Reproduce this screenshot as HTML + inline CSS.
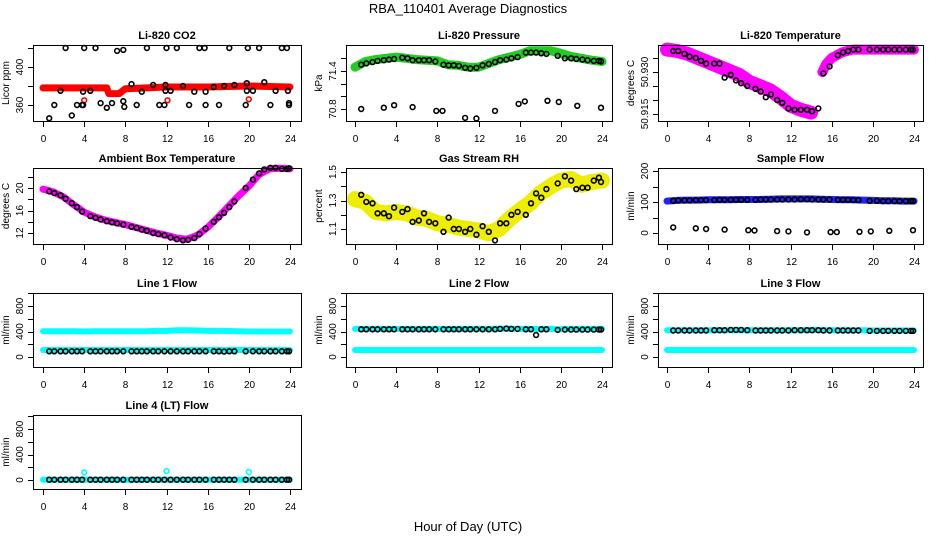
<!DOCTYPE html>
<html><head><meta charset="utf-8"><style>
body{margin:0;background:#fff}
svg text{font-family:"Liberation Sans",sans-serif;fill:#000}
</style></head><body>
<svg id="c" width="936" height="540" xmlns="http://www.w3.org/2000/svg">
<text x="468" y="13" font-size="13" text-anchor="middle">RBA_110401  Average Diagnostics</text>
<text x="468" y="531" font-size="13" text-anchor="middle">Hour of Day (UTC)</text>
</svg>
<script>
// ---- data ----
const hours = [0,1,2,3,4,5,6,7,8,9,10,11,12,13,14,15,16,17,18,19,20,21,22,23,24];
const blackTimes = [0.6,1.1,1.7,2.2,2.8,3.3,3.8,4.6,5.1,5.6,6.2,6.7,7.2,7.8,8.6,9.1,9.6,10.1,10.7,11.2,11.8,12.4,13.0,13.6,14.1,14.7,15.2,15.8,16.6,17.1,17.6,18.1,18.6,19.7,20.4,21.0,21.5,22.1,22.6,23.2,23.7,23.9];
const xTicks = [0,4,8,12,16,20,24];

const co2RedTimes = [0,6.2,6.4,7.4,8.0,12,16,20,24];
const co2RedVals = [378,378,372,372,377,379,379,380,379];
const co2BlackT = [0.6,1.1,1.7,2.2,2.8,3.3,3.8,3.9,3.9,4.0,4.6,5.1,5.6,6.2,6.7,7.2,7.8,7.8,7.9,8.6,9.1,9.6,10.1,10.7,11.3,11.8,11.9,11.9,12.0,12.4,13.0,13.6,14.2,14.7,15.2,15.7,15.8,15.8,16.6,17.1,17.6,18.1,18.6,19.7,19.8,19.8,19.9,20.4,21.0,21.5,22.1,22.6,23.2,23.7,23.8,23.9,23.9];
const co2BlackV = [346,360,375,420,349,360,360,360,374,420,375,420,362,357,362,417,364,418,358,382,360,374,420,381,360,360,381,375,420,375,420,380,360,374,420,420,360,374,379,360,380,420,381,360,383,375,420,375,420,384,360,375,420,420,375,360,362];
const co2RedOutT = [4.0,12.1,20.0];
const co2RedOutV = [365,365,366];

const presBand = [71.46,71.55,71.58,71.60,71.62,71.60,71.58,71.57,71.56,71.50,71.49,71.46,71.46,71.52,71.58,71.62,71.66,71.72,71.72,71.72,71.68,71.63,71.60,71.57,71.55];
const presBlack = [71.50,71.52,71.54,71.56,71.57,71.58,71.59,71.61,71.60,71.57,71.57,71.57,71.57,71.55,71.50,71.49,71.49,71.48,71.45,71.44,71.45,71.49,71.51,71.54,71.57,71.58,71.60,71.62,71.69,71.69,71.69,71.68,71.67,71.64,71.60,71.60,71.59,71.58,71.57,71.56,71.56,71.55];
const presOutT = [0.6,2.8,3.8,5.6,7.9,8.5,10.7,11.8,13.6,15.9,16.5,18.7,19.8,21.6,23.9];
const presOutV = [70.80,70.82,70.86,70.83,70.77,70.77,70.66,70.65,70.77,70.88,70.92,70.93,70.91,70.85,70.82];

const tempBandA = [50.938,50.9375,50.9365,50.935,50.9335,50.932,50.9305,50.929,50.9265,50.925,50.9235,50.921,50.918,50.9165,50.9155];
const tempBandBT = [15.1,15.5,16,17,18,19,20,21,22,23,24];
const tempBandB = [50.930,50.933,50.935,50.937,50.938,50.938,50.938,50.938,50.938,50.938,50.938];
const tempBlack = [50.9375,50.9375,50.9365,50.9355,50.935,50.934,50.933,50.933,50.933,50.928,50.929,50.927,50.926,50.925,50.924,50.923,50.921,50.922,50.920,50.919,50.917,50.9165,50.9165,50.9165,50.916,50.917,50.9295,50.932,50.936,50.937,50.9375,50.938,50.938,50.938,50.938,50.938,50.938,50.938,50.938,50.938,50.938,50.938];

const ambBand = [19.8,19.3,18.4,17.0,15.7,14.9,14.3,13.9,13.5,13.0,12.5,12.0,11.6,11.1,10.9,11.6,13.0,14.8,16.7,18.6,20.3,22.4,23.4,23.5,23.4];
const ambBlack = [19.4,19.1,18.7,18.1,17.3,16.6,15.8,15.0,14.7,14.4,14.1,13.9,13.7,13.5,13.1,12.9,12.6,12.4,12.0,11.8,11.6,11.2,10.9,10.7,10.8,11.1,11.8,12.8,14.0,14.8,15.6,16.6,17.6,20.0,21.5,22.6,23.3,23.6,23.6,23.4,23.4,23.5];

const rhBand = [1.31,1.29,1.22,1.21,1.22,1.21,1.18,1.17,1.14,1.13,1.11,1.10,1.09,1.07,1.10,1.17,1.23,1.28,1.35,1.40,1.44,1.45,1.41,1.43,1.44];
const rhBlack = [1.34,1.29,1.28,1.21,1.21,1.19,1.25,1.22,1.24,1.15,1.16,1.21,1.15,1.14,1.08,1.18,1.10,1.10,1.08,1.10,1.06,1.12,1.08,1.02,1.14,1.14,1.20,1.22,1.20,1.28,1.35,1.32,1.38,1.42,1.47,1.44,1.38,1.39,1.39,1.44,1.46,1.43];

const flowBand = [103,105,106,106,107,107,107,108,108,108,109,110,110,110,110,109,108,107,107,106,105,104,104,103,103];
const flowBlack = [104,105,105,105,106,106,106,106,107,107,107,107,107,107,107,108,108,108,108,108,108,108,109,109,108,108,108,108,107,107,107,106,106,104,104,103,103,103,103,103,103,103];
const flowOutT = [0.6,2.8,3.8,5.6,7.9,8.5,10.7,11.8,13.6,15.9,16.5,18.7,19.8,21.6,23.9];
const flowOutV = [18,15,13,11,9,8,6,5,2,3,3,4,5,7,9];

const line1Hi = [405,405,405,405,400,405,405,405,405,405,405,410,410,420,420,415,410,410,408,405,400,400,400,400,400];
const line1Lo = [110,110,110,110,110,110,110,110,110,110,110,110,110,110,110,110,110,110,110,110,110,110,110,110,110];
const line1Black = [90,90,90,90,90,90,90,90,90,90,90,90,90,90,90,90,90,90,90,90,90,90,90,90,90,90,90,90,90,90,85,90,90,90,90,90,90,90,90,90,90,90];
const line2Hi = [440,440,440,440,440,440,440,440,440,440,440,440,440,440,445,445,440,440,440,440,435,440,440,440,440];
const line2Lo = [110,110,110,110,110,110,110,110,110,110,110,110,110,110,110,110,110,110,110,110,110,110,110,110,110];
const line2Black = [435,435,435,435,435,435,435,435,435,435,435,435,435,435,435,435,435,435,435,435,435,435,435,435,440,445,440,440,435,435,345,435,435,425,430,430,430,430,430,430,430,430];
const line3Hi = [420,420,420,420,420,420,420,420,420,420,420,420,420,420,425,425,420,420,420,420,415,415,415,415,415];
const line3Lo = [110,110,110,110,110,110,110,110,110,110,110,110,110,110,110,110,110,110,110,110,110,110,110,110,110];
const line3Black = [415,415,415,415,415,415,415,420,420,420,425,425,425,420,415,415,415,415,415,415,415,420,420,420,420,420,415,415,415,415,415,415,415,410,410,410,410,410,410,410,410,410];
const line4Band = [5,5,5,5,5,5,5,5,5,5,5,5,5,5,5,5,5,5,5,5,5,5,5,5,5];
const line4Black = [5,5,5,5,5,5,5,5,5,5,5,5,5,5,5,5,5,5,5,5,5,5,5,5,5,5,5,5,5,5,5,5,5,5,5,5,5,5,5,5,5,5];
const line4OutT = [4.0,12.0,20.0];
const line4OutV = [120,140,125];

// ---- drawing ----
const svg = document.getElementById('c');
const NS = 'http://www.w3.org/2000/svg';
function mk(tag, attrs, parent){ const e=document.createElementNS(NS,tag); for(const k in attrs) e.setAttribute(k,attrs[k]); (parent||svg).appendChild(e); return e; }

const cols = [{l:33,r:301,x0:43,x24:290},{l:346,r:612,x0:355,x24:602},{l:658,r:923,x0:667,x24:914}];
const rows = [{t:45,b:121},{t:168,b:244},{t:293,b:367},{t:415,b:489}];

function panel(name,title,ylab,col,row,yRef1,yPix1,yRef2,yPix2,ticks,labels,dec){
  const c=cols[col], r=rows[row];
  const g=mk('g',{});
  
  
  const xs=t=>c.x0+(c.x24-c.x0)*t/24;
  const ys=v=>yPix1+(v-yRef1)*(yPix2-yPix1)/(yRef2-yRef1);
  const t=mk('text',{x:(c.l+c.r)/2,y:r.t-6,'font-size':11,'font-weight':'bold','text-anchor':'middle'},g); t.textContent=title;
  
  
  const plot=mk('g',{},g);
  
  
  const box=mk('rect',{x:c.l+0.5,y:r.t+0.5,width:c.r-c.l,height:r.b-r.t,fill:'none',stroke:'#000','stroke-width':1},g);
  
  
  const xa=mk('g',{},g);
  
  
  mk('line',{x1:xs(0),x2:xs(24),y1:r.b+0.5,y2:r.b+0.5,stroke:'#000'},xa);
  xTicks.forEach(v=>{ const x=Math.round(xs(v))+0.5;
    mk('line',{x1:x,x2:x,y1:r.b,y2:r.b+6,stroke:'#000'},xa);
    const tx=mk('text',{x:x,y:r.b+21,'font-size':10,'text-anchor':'middle'},xa); tx.textContent=v;
    
    
  });
  const ya=mk('g',{},g);
  
  
  mk('line',{x1:c.l+0.5,x2:c.l+0.5,y1:ys(ticks[0]),y2:ys(ticks[ticks.length-1]),stroke:'#000'},ya);
  ticks.forEach(v=>{ const y=Math.round(ys(v))+0.5; mk('line',{x1:c.l-5,x2:c.l,y1:y,y2:y,stroke:'#000'},ya); });
  labels.forEach(v=>{ const y=ys(v); const lx=c.l-10;
    const tx=mk('text',{x:lx,y:y,'font-size':10,'text-anchor':'middle',transform:`rotate(-90 ${lx} ${y})`},ya); tx.textContent=v.toFixed(dec);
    
    
  });
  const yl=c.l-24, ym=(r.t+r.b)/2;
  const yt=mk('text',{x:yl,y:ym,'font-size':10,'text-anchor':'middle',transform:`rotate(-90 ${yl} ${ym})`},g); yt.textContent=ylab;
  
  
  return {xs,ys,plot};
}
function band(p,T,V,color,w,nm){
  const pts=T.map((t,i)=>p.xs(t).toFixed(1)+','+p.ys(V[i]).toFixed(1)).join(' ');
  const pl=mk('polyline',{points:pts,fill:'none',stroke:color,'stroke-width':w,'stroke-linejoin':'round','stroke-linecap':'round'},p.plot);
  
  
}
function pts(p,T,V,color,nm){
  T.forEach((t,i)=>{ const ci=mk('circle',{cx:p.xs(t).toFixed(1),cy:p.ys(V[i]).toFixed(1),r:2.4,fill:'none',stroke:color,'stroke-width':1.6},p.plot);
    
    
  });
}

let p;
p=panel('co2','Li-820 CO2','Licor ppm',0,0,360,105,400,67,[360,380,400,420],[360,400],0);
band(p,co2RedTimes,co2RedVals,'#f00',7,'co2-red-band');
pts(p,co2RedOutT,co2RedOutV,'#f00','co2-red-point');
pts(p,co2BlackT,co2BlackV,'#000','co2-point');

p=panel('pressure','Li-820 Pressure','kPa',1,0,71.4,71,70.8,109,[70.8,71.0,71.2,71.4,71.6],[70.8,71.4],1);
band(p,hours,presBand,'#2c2',9,'pressure-green-band');
pts(p,blackTimes,presBlack,'#000','pressure-point');
pts(p,presOutT,presOutV,'#000','pressure-outlier');

p=panel('li820-temp','Li-820 Temperature','degrees C',2,0,50.930,72,50.915,114,[50.915,50.920,50.925,50.930,50.935],[50.915,50.930],3);
band(p,hours.slice(0,15),tempBandA,'#f0f',14,'temp-magenta-band');
band(p,tempBandBT,tempBandB,'#f0f',10,'temp-magenta-band');
pts(p,blackTimes,tempBlack,'#000','temp-point');

p=panel('ambient','Ambient Box Temperature','degrees C',0,1,12,233,20,188,[12,14,16,18,20,22],[12,16,20],0);
band(p,hours,ambBand,'#f0f',7,'ambient-magenta-band');
pts(p,blackTimes,ambBlack,'#000','ambient-point');

p=panel('rh','Gas Stream RH','percent',1,1,1.1,229,1.5,172,[1.1,1.2,1.3,1.4,1.5],[1.1,1.3,1.5],1);
band(p,hours,rhBand,'#ee0',16,'rh-yellow-band');
pts(p,blackTimes,rhBlack,'#000','rh-point');

p=panel('sample-flow','Sample Flow','ml/min',2,1,0,233,200,171,[0,50,100,150,200],[0,100,200],0);
band(p,hours,flowBand,'#22f',7,'sample-flow-blue-band');
pts(p,blackTimes,flowBlack,'#000','sample-flow-point');
pts(p,flowOutT,flowOutV,'#000','sample-flow-outlier');

const fT=[0,200,400,600,800,1000], fL=[0,400,800];
p=panel('line1','Line 1 Flow','ml/min',0,2,0,357,800,306,fT,fL,0);
band(p,hours,line1Hi,'#0ff',6,'line1-cyan-high');
band(p,hours,line1Lo,'#0ff',6,'line1-cyan-low');
pts(p,blackTimes,line1Black,'#000','line1-point');

p=panel('line2','Line 2 Flow','ml/min',1,2,0,357,800,306,fT,fL,0);
band(p,hours,line2Hi,'#0ff',6,'line2-cyan-high');
band(p,hours,line2Lo,'#0ff',6,'line2-cyan-low');
pts(p,blackTimes,line2Black,'#000','line2-point');

p=panel('line3','Line 3 Flow','ml/min',2,2,0,357,800,306,fT,fL,0);
band(p,hours,line3Hi,'#0ff',6,'line3-cyan-high');
band(p,hours,line3Lo,'#0ff',6,'line3-cyan-low');
pts(p,blackTimes,line3Black,'#000','line3-point');

p=panel('line4','Line 4 (LT) Flow','ml/min',0,3,0,480,800,429,fT,fL,0);
band(p,hours,line4Band,'#0ff',6,'line4-cyan-band');
pts(p,line4OutT,line4OutV,'#0ff','line4-cyan-outlier');
pts(p,blackTimes,line4Black,'#000','line4-point');
</script>
</body></html>
